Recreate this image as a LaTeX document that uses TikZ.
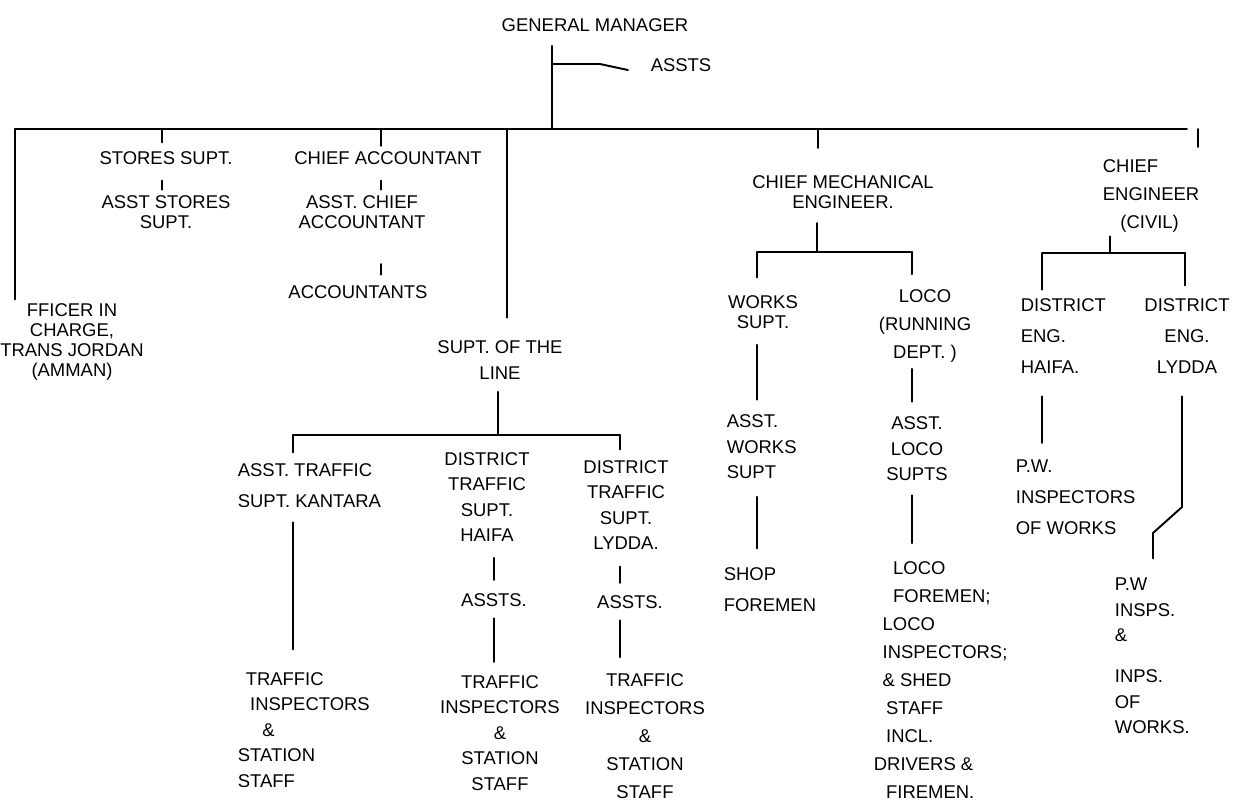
\documentclass[tikz,border=0pt]{standalone}
\usepackage{fontspec}
\newfontfamily\hand{Liberation Sans}
\usetikzlibrary{positioning,calc}

\begin{document}
\begin{tikzpicture}[x=0.02cm, y=-0.02cm,
  post/.style={font=\hand\fontsize{10.5}{14.5}\selectfont, align=center, inner sep=2pt},
  tight/.style={font=\hand\fontsize{10.5}{11.5}\selectfont},
  roomy/.style={font=\hand\fontsize{10.5}{16}\selectfont},
  loose/.style={font=\hand\fontsize{10.5}{17.5}\selectfont},
  link/.style={line width=1.1pt, line cap=round}]
\useasboundingbox[fill=white] (0,0) rectangle (1238,806);

% general manager and the main bar
\node[post] (gm) at (595,25) {GENERAL MANAGER};
\node[post] (assts) at (681,65) {ASSTS};
\coordinate (gmfoot) at (552,129);
\coordinate (gmside) at (552,64);
\draw[link, shorten <=6pt] (gm.south -| gmfoot) -- (gmfoot);
\draw[link] (gmside) -- ++(48,0) -- ($(assts.west)+(-19,5)$);
\coordinate (barL) at (15,129);
\coordinate (barR) at (1187,129);
\draw[link] (barL) -- (barR);
\foreach \n/\x in {st/162, ac/381, sl/507, cm/818, ce/1198}
  \coordinate (foot\n) at (\x,129);

% left-hand departments
\node[post, tight] (officer) at (72,342) {FFICER IN\\CHARGE,\\TRANS JORDAN\\(AMMAN)};
\node[post] (stores) at (166,158) {STORES SUPT.};
\node[post, tight] (asststores) at (166,212) {ASST STORES\\SUPT.};
\node[post] (chiefacc) at (388,158) {CHIEF ACCOUNTANT};
\node[post, tight] (asstchief) at (362,212) {ASST. CHIEF\\ACCOUNTANT};
\node[post] (accts) at (358,292) {ACCOUNTANTS};

\draw[link] (barL) -- (barL |- officer.north);
\draw[link, shorten >=3pt] (footst) -- (footst |- stores.north);
\draw[link, shorten <=7pt, shorten >=1pt] (stores.south -| footst) -- (asststores.north -| footst);
\draw[link, shorten >=1pt] (footac) -- (footac |- chiefacc.north);
\draw[link, shorten <=7pt, shorten >=1pt] (chiefacc.south -| footac) -- (asstchief.north -| footac);
\draw[link, shorten <=18pt, shorten >=4pt] (asstchief.south -| footac) -- (accts.north -| footac);

% superintendent of the line
\node[post] (supline) at (500,360) {SUPT. OF THE\\LINE};
\node[post, loose, align=left, anchor=west] (kantara) at (234,486) {ASST. TRAFFIC\\SUPT. KANTARA};
\node[post, align=left, anchor=west] (trafk) at (234,730)
  {\hspace*{4.5pt}TRAFFIC\\\hspace*{7pt}INSPECTORS\\\hspace*{14pt}\&\\STATION\\STAFF};
\node[post] (haifa) at (487,497) {DISTRICT\\TRAFFIC\\SUPT.\\HAIFA};
\node[post] (asstsh) at (494,600) {ASSTS.};
\node[post] (trafh) at (500,733) {TRAFFIC\\INSPECTORS\\\&\\STATION\\STAFF};
\node[post] (lydda) at (626,505) {DISTRICT\\TRAFFIC\\SUPT.\\LYDDA.};
\node[post] (asstsl) at (630,602) {ASSTS.};
\node[post, roomy] (trafl) at (645,736) {TRAFFIC\\INSPECTORS\\\&\\STATION\\STAFF};

\coordinate (slL) at (293,435);
\coordinate (slM) at (498,435);
\coordinate (slR) at (620,435);
\draw[link, shorten >=11pt] (footsl) -- (footsl |- supline.north);
\draw[link, shorten <=5pt] (supline.south -| slM) -- (slM);
\draw[link] (slL) -- (slR);
\draw[link, shorten >=4.5pt] (slL) -- (slL |- kantara.north);
\draw[link, shorten >=4pt] (slR) -- (slR |- lydda.north);
\draw[link, shorten <=6pt, shorten >=11pt] (kantara.south -| slL) -- (trafk.north -| slL);
\draw[link, shorten <=7pt, shorten >=5.5pt] (haifa.south -| asstsh) -- (asstsh.north);
\draw[link, shorten <=4.5pt, shorten >=5.5pt] (asstsh.south) -- (asstsh.south |- trafh.north);
\draw[link, shorten <=7.5pt, shorten >=5pt] (lydda.south -| slR) -- (asstsl.north -| slR);
\draw[link, shorten <=4.5pt, shorten >=7pt] (asstsl.south -| slR) -- (trafl.north -| slR);

% chief mechanical engineer
\node[post, tight] (cme) at (843,192) {CHIEF MECHANICAL\\ENGINEER.};
\node[post, tight] (workssupt) at (763,312) {WORKS\\SUPT.};
\node[post, align=left, anchor=west] (asstworks) at (723,447) {ASST.\\WORKS\\SUPT};
\node[post, loose, align=left, anchor=west] (shop) at (720,590) {SHOP\\FOREMEN};
\node[post, roomy] (loco) at (925,326) {LOCO\\(RUNNING\\DEPT. )};
\node[post] (asstloco) at (917,449) {ASST.\\LOCO\\SUPTS};
\node[post, roomy, align=left, anchor=west] (locostaff) at (870,680)
  {\hspace*{11pt}LOCO\\\hspace*{11pt}FOREMEN;\\\hspace*{5pt}LOCO\\\hspace*{5pt}INSPECTORS;\\\hspace*{5pt}\& SHED\\
   \hspace*{7pt}STAFF\\\hspace*{7pt}INCL.\\DRIVERS \&\\\hspace*{7pt}FIREMEN.};

\coordinate (cmL) at (757,252);
\coordinate (cmM) at (817,252);
\coordinate (cmR) at (912,252);
\draw[link, shorten >=13.5pt] (footcm) -- (footcm |- cme.north);
\draw[link, shorten <=6pt] (cme.south -| cmM) -- (cmM);
\draw[link] (cmL) -- (cmR);
\draw[link, shorten >=8pt] (cmL) -- (cmL |- workssupt.north);
\draw[link, shorten >=6.5pt] (cmR) -- (cmR |- loco.north);
\draw[link, shorten <=7pt, shorten >=6.5pt] (workssupt.south -| cmL) -- (asstworks.north -| cmL);
\draw[link, shorten <=8pt, shorten >=9pt] (asstworks.south -| cmL) -- (shop.north -| cmL);
\draw[link, shorten <=1.5pt, shorten >=6.5pt] (loco.south -| cmR) -- (asstloco.north -| cmR);
\draw[link, shorten <=6pt, shorten >=8pt] (asstloco.south -| cmR) -- (locostaff.north -| cmR);

% chief engineer (civil)
\node[post, roomy, align=left, anchor=west] (ce) at (1099,196) {CHIEF\\ENGINEER\\\hspace*{10pt}(CIVIL)};
\node[post, loose, align=left, anchor=west] (denghaifa) at (1017,336) {DISTRICT\\ENG.\\HAIFA.};
\node[post, loose] (denglydda) at (1187,336) {DISTRICT\\ENG.\\LYDDA};
\node[post, loose, align=left, anchor=west] (pwinsp) at (1012,497) {P.W.\\INSPECTORS\\OF WORKS};
\node[post, align=left, anchor=west] (pwinsps) at (1111,656) {P.W\\INSPS.\\\&\\[9pt]INPS.\\OF\\WORKS.};

\coordinate (ceL) at (1042,253);
\coordinate (ceM) at (1110,253);
\coordinate (ceR) at (1185,253);
\coordinate (bend1) at (1182,507);
\coordinate (bend2) at (1153,533);
\draw[link, shorten >=5pt] (footce) -- (footce |- ce.north);
\draw[link] (ce.south -| ceM) -- (ceM);
\draw[link] (ceL) -- (ceR);
\draw[link, shorten >=3pt] (ceL) -- (ceL |- denghaifa.north);
\draw[link, shorten >=5.5pt] (ceR) -- (ceR |- denglydda.north);
\draw[link, shorten <=11pt, shorten >=7.5pt] (denghaifa.south -| ceL) -- (pwinsp.north -| ceL);
\draw[link, shorten <=11pt, shorten >=9pt] (denglydda.south -| bend1) -- (bend1) -- (bend2) -- (bend2 |- pwinsps.north);
\end{tikzpicture}
\end{document}
